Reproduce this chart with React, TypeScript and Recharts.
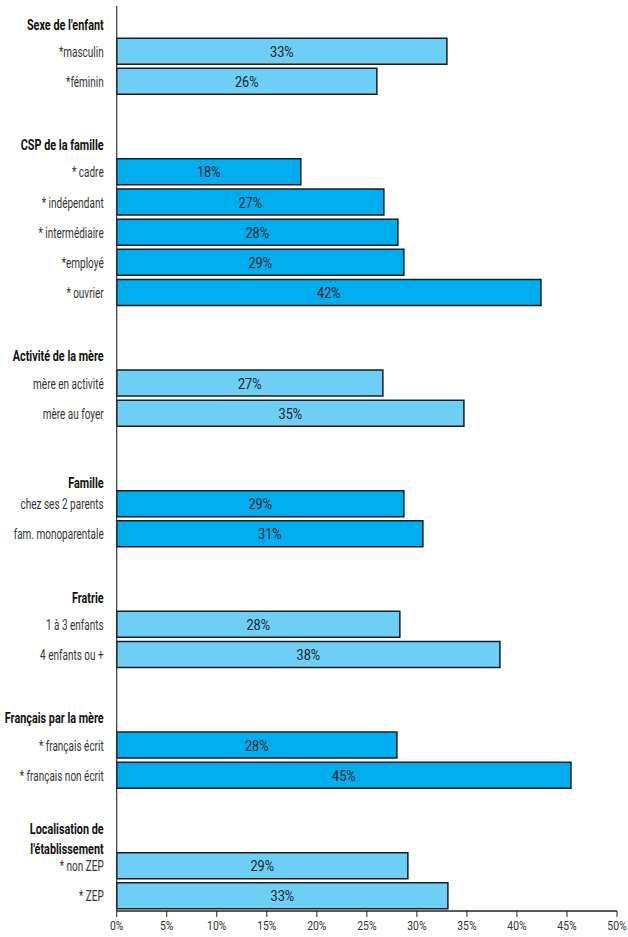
import { BarChart, Bar, XAxis, YAxis, LabelList, Cell } from "recharts";

// group headers, item labels and values (share in %)
const groupTitles = [
  "Sexe de l'enfant",
  "CSP  de la famille",
  "Activité de la mère",
  "Famille",
  "Fratrie",
  "Français par la mère",
  "Localisation de\nl'établissement",
];

const groupItems = [
  ["*masculin", "*féminin"],
  ["* cadre", "* indépendant", "* intermédiaire", "*employé", "* ouvrier"],
  ["mère en activité", "mère au foyer"],
  ["chez ses 2 parents", "fam. monoparentale"],
  ["1 à 3 enfants", "4 enfants ou +"],
  ["* français écrit", "* français non écrit"],
  ["* non ZEP", "* ZEP"],
];

const groupValues = [
  [33.0, 26.0],
  [18.4, 26.7, 28.1, 28.7, 42.4],
  [26.6, 34.7],
  [28.7, 30.6],
  [28.3, 38.3],
  [28.0, 45.4],
  [29.1, 33.1],
];

const darkGroups = [false, true, false, true, false, true, false];

const xTicks = [0, 5, 10, 15, 20, 25, 30, 35, 40, 45, 50];

const LIGHT = "#6dcff6";
const DARK = "#00aeef";
const FONT = "Roboto, 'Noto Sans', sans-serif";

type Row = {
  id: string;
  label: string;
  kind: "header" | "item" | "blank";
  value: number | null;
  dark: boolean;
};

const rows: Row[] = [];
groupTitles.forEach((title, g) => {
  if (g > 0) rows.push({ id: `blank-${g}`, label: "", kind: "blank", value: null, dark: false });
  rows.push({ id: `head-${g}`, label: title, kind: "header", value: null, dark: false });
  groupItems[g].forEach((item, i) => {
    rows.push({
      id: `item-${g}-${i}`,
      label: item,
      kind: "item",
      value: groupValues[g][i],
      dark: darkGroups[g],
    });
  });
});

// small vertical nudge for header texts
const headerDy: Record<string, number> = { Famille: 9 };

// condensed-looking text: squeeze horizontally around its anchor
function Narrow({ x, y, anchor, scale, children, ...rest }: any) {
  return (
    <g transform={`translate(${x} ${y}) scale(${scale} 1)`}>
      <text x={0} y={0} textAnchor={anchor} fontFamily={FONT} {...rest}>
        {children}
      </text>
    </g>
  );
}

const CategoryTick = (props: any) => {
  const { x, y, payload } = props;
  const row = rows[payload.index];
  if (!row || row.kind === "blank") return null;
  if (row.kind === "header") {
    const lines = row.label.split("\n");
    const dy = (headerDy[row.label] ?? 3) - ((lines.length - 1) * 20) / 2;
    return (
      <g>
        {lines.map((l: string, i: number) => (
          <Narrow
            key={i}
            x={x - 1}
            y={y + dy + i * 20 + 5.5}
            anchor="end"
            scale={0.7}
            fontWeight="bold"
            fontSize={15.5}
            fill="#111"
          >
            {l}
          </Narrow>
        ))}
      </g>
    );
  }
  return (
    <Narrow x={x - 1} y={y + 5.5} anchor="end" scale={0.69} fontSize={14.5} fill="#333">
      {row.label}
    </Narrow>
  );
};

const PercentTick = (props: any) => {
  const { x, y, payload } = props;
  return (
    <Narrow x={x} y={y + 9} anchor="middle" scale={0.8} fontSize={13} fill="#333">
      {`${payload.value}%`}
    </Narrow>
  );
};

const BarValue = (props: any) => {
  const { x, y, width, height, value } = props;
  if (value == null) return null;
  return (
    <Narrow
      x={x + width / 2}
      y={y + height / 2 + 5.5}
      anchor="middle"
      scale={0.85}
      fontSize={15}
      fill="#222"
    >
      {`${Math.round(value)}%`}
    </Narrow>
  );
};

export default function App() {
  return (
    <div style={{ position: "absolute", left: 0, top: 0, background: "#fff" }}>
      <BarChart
        width={628}
        height={937}
        data={rows}
        layout="vertical"
        margin={{ top: 6, right: 11, left: 0, bottom: 0 }}
      >
        <XAxis
          type="number"
          domain={[0, 50]}
          ticks={xTicks}
          height={26}
          tickSize={6}
          tickMargin={4}
          interval={0}
          axisLine={{ stroke: "#222", strokeWidth: 1.3 }}
          tickLine={{ stroke: "#222" }}
          tick={<PercentTick />}
        />
        <YAxis
          type="category"
          dataKey="id"
          width={116.7}
          interval={0}
          tickLine={false}
          tickMargin={6}
          axisLine={{ stroke: "#333", strokeWidth: 1.2 }}
          tick={<CategoryTick />}
        />
        <Bar
          dataKey="value"
          barSize={26}
          stroke="#1c1c1c"
          strokeWidth={1.5}
          isAnimationActive={false}
        >
          {rows.map((r) => (
            <Cell key={r.id} fill={r.dark ? DARK : LIGHT} />
          ))}
          <LabelList dataKey="value" content={<BarValue />} />
        </Bar>
      </BarChart>
    </div>
  );
}
